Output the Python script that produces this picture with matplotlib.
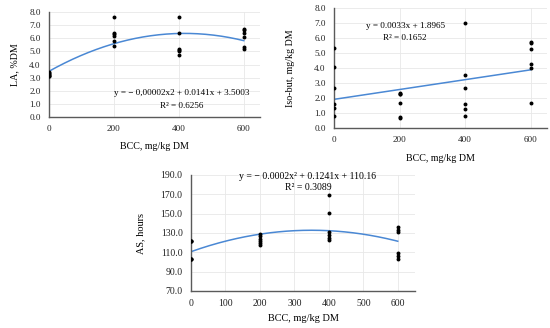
import numpy as np
import matplotlib
matplotlib.use("Agg")
import matplotlib.pyplot as plt
from matplotlib.ticker import FormatStrFormatter

plt.rcParams["font.family"] = ["Liberation Serif", "DejaVu Serif"]

# LA, %DM
la_x = [0] * 6 + [200] * 6 + [400] * 6 + [600] * 6
la_y = [3.4, 3.35, 3.3, 3.2, 3.15, 3.1,
        7.6, 6.4, 6.3, 6.2, 5.8, 5.4,
        7.6, 6.4, 5.2, 5.1, 5.0, 4.7,
        6.7, 6.6, 6.4, 6.1, 5.3, 5.2]

# Iso-but, mg/kg DM
ib_x = [0] * 6 + [200] * 6 + [400] * 6 + [600] * 6
ib_y = [5.35, 4.05, 2.7, 1.6, 1.35, 0.8,
        2.35, 2.3, 2.25, 1.7, 0.75, 0.7,
        7.0, 3.55, 2.65, 1.6, 1.25, 0.8,
        5.75, 5.65, 5.3, 4.3, 4.0, 1.7]

# AS, hours
as_x = [0] * 6 + [200] * 6 + [400] * 6 + [600] * 6
as_y = [122, 122, 122, 103, 103, 103,
        129, 127, 124, 122, 120, 118,
        169, 151, 131, 128, 125, 123,
        136, 133, 131, 109, 106, 103]

LINE_COLOR = "#4a88d4"
GRID_COLOR = "#e8e8e8"
AXIS_COLOR = "#5a5a5a"


def px_axes(fig, left, top, right, bottom, W=550, H=328):
    return fig.add_axes([left / W, (H - bottom) / H, (right - left) / W, (bottom - top) / H])


def style_axes(ax, xticks, yticks, ylim, tick_size):
    ax.set_xlim(0, 650)
    ax.set_ylim(*ylim)
    ax.set_xticks(xticks)
    ax.set_yticks(yticks)
    ax.yaxis.set_major_formatter(FormatStrFormatter("%.1f"))
    for side in ("top", "right"):
        ax.spines[side].set_visible(False)
    for side in ("left", "bottom"):
        ax.spines[side].set_color(AXIS_COLOR)
        ax.spines[side].set_linewidth(1.0)
    ax.grid(True, color=GRID_COLOR, linewidth=0.6)
    ax.set_axisbelow(True)
    ax.tick_params(length=0, labelsize=tick_size, pad=6, colors="#222222")


def draw_panel(ax, xs, ys, deg):
    ax.scatter(xs, ys, s=8, color="black", zorder=3, linewidths=0)
    coef = np.polyfit(xs, ys, deg)
    xx = np.linspace(0, 600, 200)
    ax.plot(xx, np.polyval(coef, xx), color=LINE_COLOR, linewidth=1.1, zorder=2)


fig = plt.figure(figsize=(5.5, 3.28), dpi=100)

# panel 1
ax1 = px_axes(fig, 49, 12, 260, 117)
draw_panel(ax1, la_x, la_y, 2)
style_axes(ax1, [0, 200, 400, 600], np.arange(0, 8.1, 1), (0, 8), 6.6)
ax1.set_xlabel("BCC, mg/kg DM", fontsize=7.2, labelpad=6)
ax1.set_ylabel("LA, %DM", fontsize=7.2, labelpad=7)
ax1.text(409, 1.83, "y = \u2212 0,00002x2 + 0.0141x + 3.5003", fontsize=6.6,
         ha="center", va="center")
ax1.text(409, 0.84, "R\u00b2 = 0.6256", fontsize=6.6, ha="center", va="center")

# panel 2
ax2 = px_axes(fig, 334, 8, 547, 128)
draw_panel(ax2, ib_x, ib_y, 1)
style_axes(ax2, [0, 200, 400, 600], np.arange(0, 8.1, 1), (0, 8), 6.6)
ax2.set_xlabel("BCC, mg/kg DM", fontsize=7.2, labelpad=7)
ax2.set_ylabel("Iso-but, mg/kg DM", fontsize=7.2, labelpad=14)
ax2.text(217, 6.8, "y = 0.0033x + 1.8965", fontsize=6.6, ha="center", va="center")
ax2.text(217, 6.0, "R\u00b2 = 0.1652", fontsize=6.6, ha="center", va="center")

# panel 3
ax3 = px_axes(fig, 191, 175, 415, 291)
draw_panel(ax3, as_x, as_y, 2)
style_axes(ax3, np.arange(0, 601, 100), np.arange(70, 191, 20), (70, 190), 7.0)
ax3.set_xlabel("BCC, mg/kg DM", fontsize=7.4, labelpad=4)
ax3.set_ylabel("AS, hours", fontsize=7.4, labelpad=11)
ax3.text(339, 188, "y = \u2212 0.0002x\u00b2 + 0.1241x + 110.16", fontsize=7.0,
         ha="center", va="center")
ax3.text(339, 176.6, "R\u00b2 = 0.3089", fontsize=7.0, ha="center", va="center")

fig.savefig("out.png", dpi=100)
